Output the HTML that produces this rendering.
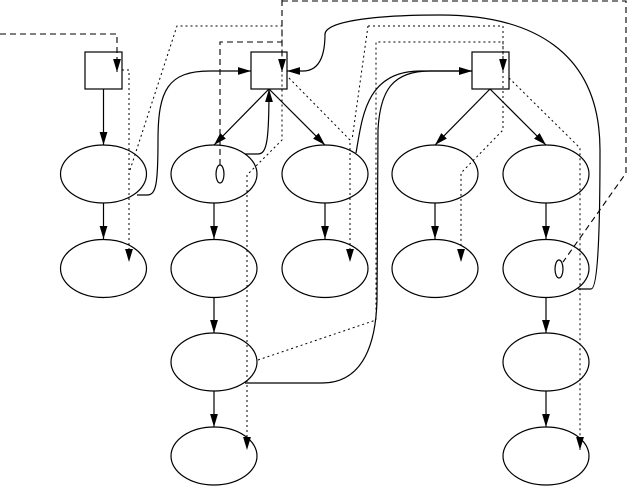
<!DOCTYPE html>
<html><head><meta charset="utf-8"><style>html,body{margin:0;padding:0;background:#fff}svg{display:block}</style></head>
<body>
<svg width="627" height="488" viewBox="0 0 627 488" xmlns="http://www.w3.org/2000/svg">
<defs>
<marker id="a" viewBox="0 0 10 10" refX="10" refY="5" markerWidth="13" markerHeight="13" markerUnits="userSpaceOnUse" orient="auto"><path d="M0,2 L10,5 L0,8 z" fill="#000"/></marker>
</defs>
<g fill="none" stroke="#000" stroke-width="1.2">
<rect x="85" y="52" width="37" height="37"/>
<rect x="251" y="52" width="36" height="37"/>
<rect x="472" y="52" width="37" height="37"/>
<ellipse cx="103.5" cy="174" rx="43" ry="29"/>
<ellipse cx="103.5" cy="268.5" rx="43" ry="29"/>
<ellipse cx="214" cy="174" rx="43" ry="29"/>
<ellipse cx="214" cy="268.5" rx="43" ry="29"/>
<ellipse cx="214" cy="362" rx="43" ry="29"/>
<ellipse cx="214" cy="456" rx="43" ry="29"/>
<ellipse cx="325" cy="174" rx="43" ry="29"/>
<ellipse cx="325" cy="268.5" rx="43" ry="29"/>
<ellipse cx="435" cy="174" rx="43" ry="29"/>
<ellipse cx="435" cy="268.5" rx="43" ry="29"/>
<ellipse cx="546" cy="174" rx="43" ry="29"/>
<ellipse cx="546" cy="268.5" rx="43" ry="29"/>
<ellipse cx="546" cy="362" rx="43" ry="29"/>
<ellipse cx="546" cy="456" rx="43" ry="29"/>
<ellipse cx="220" cy="174" rx="4" ry="9"/>
<ellipse cx="559" cy="269" rx="4" ry="9"/>
</g>
<g fill="none" stroke="#000" stroke-width="1.2" marker-end="url(#a)">
<line x1="103.5" y1="89" x2="103.5" y2="145"/>
<line x1="103.5" y1="203" x2="103.5" y2="239"/>
<line x1="269" y1="89" x2="214" y2="145"/>
<line x1="269" y1="89" x2="325" y2="145"/>
<line x1="214" y1="203" x2="214" y2="239"/>
<line x1="214" y1="298" x2="214" y2="333"/>
<line x1="214" y1="391" x2="214" y2="427"/>
<line x1="325" y1="203" x2="325" y2="239"/>
<line x1="490" y1="89" x2="435" y2="145"/>
<line x1="490" y1="89" x2="546" y2="145"/>
<line x1="435" y1="203" x2="435" y2="239"/>
<line x1="546" y1="203" x2="546" y2="239"/>
<line x1="546" y1="298" x2="546" y2="333"/>
<line x1="546" y1="391" x2="546" y2="427"/>
<path d="M137,195 L147,195 C156,195 158,185 158,140 C158,90 168,71 210,71 L251,71"/>
<path d="M245,154 L258,154 C267,154 269,140 269,89"/>
<path d="M578,289 L591,289 C596,289 600,260 600,150 C600,50 530,15 440,15 C370,15 326,22 325,34 C325,50 322,71 303,71 L287,71"/>
<path d="M356,153 C362,120 365,71 420,71 L472,71"/>
<path d="M245,383 L322,383 C365,383 376,340 377,300 L378,130 C380,90 393,71 430,71 L472,71"/>
</g>
<g fill="none" stroke="#000" stroke-width="1.1" stroke-dasharray="6,4">
<path d="M0,34 L117,34 L117,72" marker-end="url(#a)"/>
<path d="M220,165 L220,42 L282,42"/>
<path d="M282,0 L282,72" marker-end="url(#a)"/>
<path d="M282,1 L626,1 L626,173 L563,262"/>
</g>
<g fill="none" stroke="#000" stroke-width="1" stroke-dasharray="2,3">
<path d="M122,70 L129,70 L129,262" marker-end="url(#a)"/>
<path d="M130,170 L177,26 L282,26 L282,140 L247,175 L247,450" marker-end="url(#a)"/>
<path d="M289,78 L350,140 L350,262" marker-end="url(#a)"/>
<path d="M368,26 L352,140"/>
<path d="M368,26 L503,26 L503,130 L461,173 L461,262" marker-end="url(#a)"/>
<path d="M258,360 L376,320 L376,42 L503,42 L503,72" marker-end="url(#a)"/>
<path d="M509,78 L580,148 L580,450" marker-end="url(#a)"/>
</g>
</svg>
</body></html>
